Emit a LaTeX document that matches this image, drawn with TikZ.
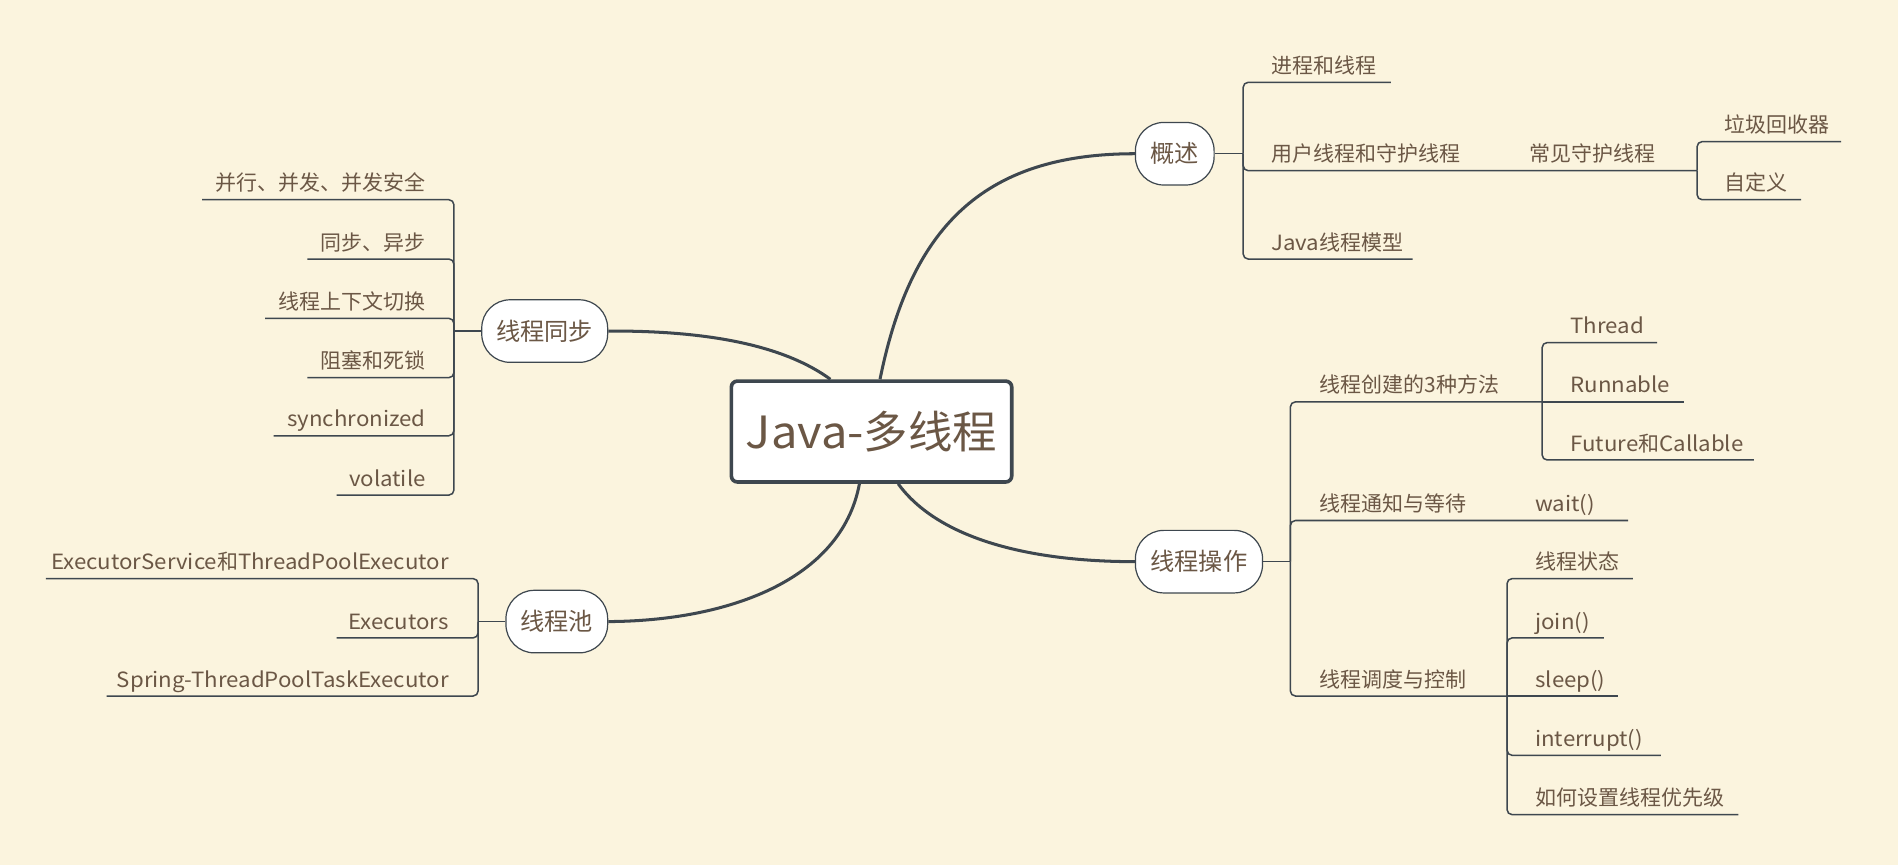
\documentclass[tikz,border=0pt]{standalone}
\usepackage{fontspec}
\setmainfont{Noto Sans CJK SC}
\newfontfamily\latf[FakeStretch=1.06]{Noto Sans CJK SC}
\newcommand\lat[1]{{\latf #1}}
\usetikzlibrary{calc}
\definecolor{bg}{RGB}{251,244,222}
\definecolor{txt}{RGB}{107,87,69}
\definecolor{ln}{RGB}{62,71,79}
\begin{document}
\begin{tikzpicture}[x=0.6pt,y=-0.6pt,
 lbl/.style={text=txt,font=\fontsize{10.4pt}{12pt}\selectfont,inner sep=0pt,yshift=-1pt},
 topic/.style={draw=ln,line width=0.6pt,fill=white,rounded corners=14pt,minimum height=31pt,text=txt,font=\fontsize{12pt}{14pt}\selectfont,inner sep=0pt},
 branch/.style={draw=ln,line width=1.5pt},
 twig/.style={draw=ln,line width=0.75pt,rounded corners=2.5pt}]
\fill[bg] (0,0) rectangle (1568,715);
\useasboundingbox (0,0) rectangle (1568,715);

% central
\node[draw=ln,line width=1.8pt,fill=white,rounded corners=3pt,minimum width=139pt,minimum height=50pt,text=txt,font=\fontsize{22pt}{26pt}\selectfont] (c) at (720,356.5) {\lat{Java-}多线程};

% topics
\node[topic,minimum width=39pt] (gs) at (970.5,127) {概述};
\node[topic,minimum width=62.4pt] (tb) at (450,273.5) {线程同步};
\node[topic,minimum width=50.4pt] (tc) at (460,513.5) {线程池};
\node[topic,minimum width=63pt] (cz) at (990.5,464) {线程操作};

% main branches
\draw[branch] ($(c.north)+(7,0)$) .. controls (752,190) and (810,127) .. (gs.west);
\draw[branch] ($(c.north)+(-34,0)$) .. controls (650,287) and (590,273) .. (tb.east);
\draw[branch] ($(c.south)+(-10,0)$) .. controls (695,480) and (600,513) .. (tc.east);
\draw[branch] ($(c.south)+(22,0)$) .. controls (775,445) and (850,464) .. (cz.west);

% ---- 概述
\coordinate (j1) at (1027,127);
\draw[twig] (gs.east) -- (j1);
\node[lbl,anchor=base west] (g1) at (1050,59) {进程和线程};
\node[lbl,anchor=base west] (g2) at (1050,132) {用户线程和守护线程};
\node[lbl,anchor=base west] (g3) at (1050,205) {\lat{Java}线程模型};
\draw[twig] (j1) -- (1027,68) -- (1149,68);
\draw[twig] (j1) -- (1027,141) -- (1402,141);
\draw[twig] (j1) -- (1027,214) -- (1167,214);
\node[lbl,anchor=base west] (g2a) at (1263,132) {常见守护线程};
\coordinate (j1b) at (1402,141);
\node[lbl,anchor=base west] (g2a1) at (1424,108) {垃圾回收器};
\node[lbl,anchor=base west] (g2a2) at (1424,156) {自定义};
\draw[twig] (j1b) -- (1402,117) -- (1521,117);
\draw[twig] (j1b) -- (1402,165) -- (1488,165);

% ---- 线程操作
\coordinate (j2) at (1066,464);
\draw[twig] (cz.east) -- (j2);
\node[lbl,anchor=base west] (o1) at (1090,323) {线程创建的3种方法};
\node[lbl,anchor=base west] (o2) at (1090,421) {线程通知与等待};
\node[lbl,anchor=base west] (o3) at (1090,566) {线程调度与控制};
\draw[twig] (j2) -- (1066,332) -- (1274,332);
\draw[twig] (j2) -- (1066,430) -- (1345,430);
\draw[twig] (j2) -- (1066,575) -- (1245,575);
\coordinate (j2a) at (1274,332);
\node[lbl,anchor=base west] (o1a) at (1297,274) {\lat{Thread}};
\node[lbl,anchor=base west] (o1b) at (1297,323) {\lat{Runnable}};
\node[lbl,anchor=base west] (o1c) at (1297,371) {\lat{Future}和\lat{Callable}};
\draw[twig] (j2a) -- (1274,283) -- (1369,283);
\draw[twig] (j2a) -- (1391,332);
\draw[twig] (j2a) -- (1274,380) -- (1449,380);
\node[lbl,anchor=base west] (o2a) at (1268,421) {\lat{wait()}};
\coordinate (j2c) at (1245,575);
\node[lbl,anchor=base west] (o3a) at (1268,469) {线程状态};
\node[lbl,anchor=base west] (o3b) at (1268,518) {\lat{join()}};
\node[lbl,anchor=base west] (o3c) at (1268,566) {\lat{sleep()}};
\node[lbl,anchor=base west] (o3d) at (1268,615) {\lat{interrupt()}};
\node[lbl,anchor=base west] (o3e) at (1268,664) {如何设置线程优先级};
\draw[twig] (j2c) -- (1245,478) -- (1349,478);
\draw[twig] (j2c) -- (1245,527) -- (1325,527);
\draw[twig] (j2c) -- (1337,575);
\draw[twig] (j2c) -- (1245,624) -- (1372,624);
\draw[twig] (j2c) -- (1245,673) -- (1436,673);

% ---- 线程同步
\coordinate (j3) at (375,273.5);
\draw[twig] (tb.west) -- (j3);
\node[lbl,anchor=base east] (s1) at (352,156) {并行、并发、并发安全};
\node[lbl,anchor=base east] (s2) at (352,205) {同步、异步};
\node[lbl,anchor=base east] (s3) at (352,254) {线程上下文切换};
\node[lbl,anchor=base east] (s4) at (352,303) {阻塞和死锁};
\node[lbl,anchor=base east] (s5) at (352,351) {\lat{synchronized}};
\node[lbl,anchor=base east] (s6) at (352,400) {\lat{volatile}};
\draw[twig] (j3) -- (375,165) -- (167,165);
\draw[twig] (j3) -- (375,214) -- (254,214);
\draw[twig] (j3) -- (375,263) -- (219,263);
\draw[twig] (j3) -- (375,312) -- (254,312);
\draw[twig] (j3) -- (375,360) -- (226,360);
\draw[twig] (j3) -- (375,409) -- (278,409);

% ---- 线程池
\coordinate (j4) at (395,513.5);
\draw[twig] (tc.west) -- (j4);
\node[lbl,anchor=base east] (p1) at (371,469) {\lat{ExecutorService}和\lat{ThreadPoolExecutor}};
\node[lbl,anchor=base east] (p2) at (371,518) {\lat{Executors}};
\node[lbl,anchor=base east] (p3) at (371,566) {\lat{Spring-ThreadPoolTaskExecutor}};
\draw[twig] (j4) -- (395,478) -- (38,478);
\draw[twig] (j4) -- (395,527) -- (278,527);
\draw[twig] (j4) -- (395,575) -- (88,575);
\end{tikzpicture}
\end{document}
